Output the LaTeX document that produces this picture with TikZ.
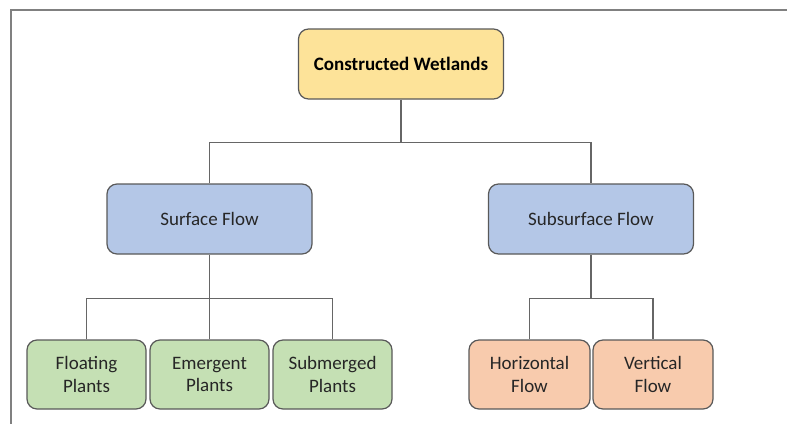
\documentclass[tikz,border=0pt]{standalone}
\usepackage{fontspec}
\setmainfont{Carlito}
\begin{document}
\begin{tikzpicture}[x=1pt,y=-1pt,
  box/.style={draw=black!65, line width=1.2pt, rounded corners=10pt, align=center,
    text=black!85, font=\fontsize{19}{22.5}\selectfont, inner sep=0pt},
  wide/.style={box, minimum width=205pt, minimum height=70pt},
  small/.style={box, minimum width=119pt, minimum height=69pt},
  conn/.style={draw=black!60, line width=1.2pt}]
\useasboundingbox (0,0) rectangle (787,424);
\draw[draw=black!50, line width=2pt] (787,10) -- (11,10) -- (11,424);
\node[wide, fill={rgb,255:red,253;green,227;blue,153}, font=\fontsize{19}{22.5}\selectfont\bfseries, text=black] (cw) at (401,64) {Constructed Wetlands};
\node[wide, fill={rgb,255:red,180;green,199;blue,231}] (sf) at (209.5,219) {Surface Flow};
\node[wide, fill={rgb,255:red,180;green,199;blue,231}] (ssf) at (591,219) {Subsurface Flow};
\node[small, fill={rgb,255:red,197;green,224;blue,180}] (fp) at (86.5,374.5) {Floating\\Plants};
\node[small, fill={rgb,255:red,197;green,224;blue,180}] (ep) at (209.5,374.5) {Emergent\\Plants};
\node[small, fill={rgb,255:red,197;green,224;blue,180}] (sp) at (332.5,374.5) {Submerged\\Plants};
\node[small, minimum width=121pt, fill={rgb,255:red,248;green,203;blue,173}] (hf) at (529.5,374.5) {Horizontal\\Flow};
\node[small, minimum width=120pt, fill={rgb,255:red,248;green,203;blue,173}] (vf) at (653,374.5) {Vertical\\Flow};
\draw[conn] (cw.south) -- ++(0,43) coordinate (j1);
\draw[conn] (sf.north) |- (j1) -| (ssf.north);
\draw[conn] (sf.south) -- ++(0,44) coordinate (j2);
\draw[conn] (fp.north) |- (j2) -| (sp.north);
\draw[conn] (ep.north) -- (j2);
\draw[conn] (ssf.south) -- ++(0,44) coordinate (j3);
\draw[conn] (hf.north) |- (j3) -| (vf.north);
\end{tikzpicture}
\end{document}
